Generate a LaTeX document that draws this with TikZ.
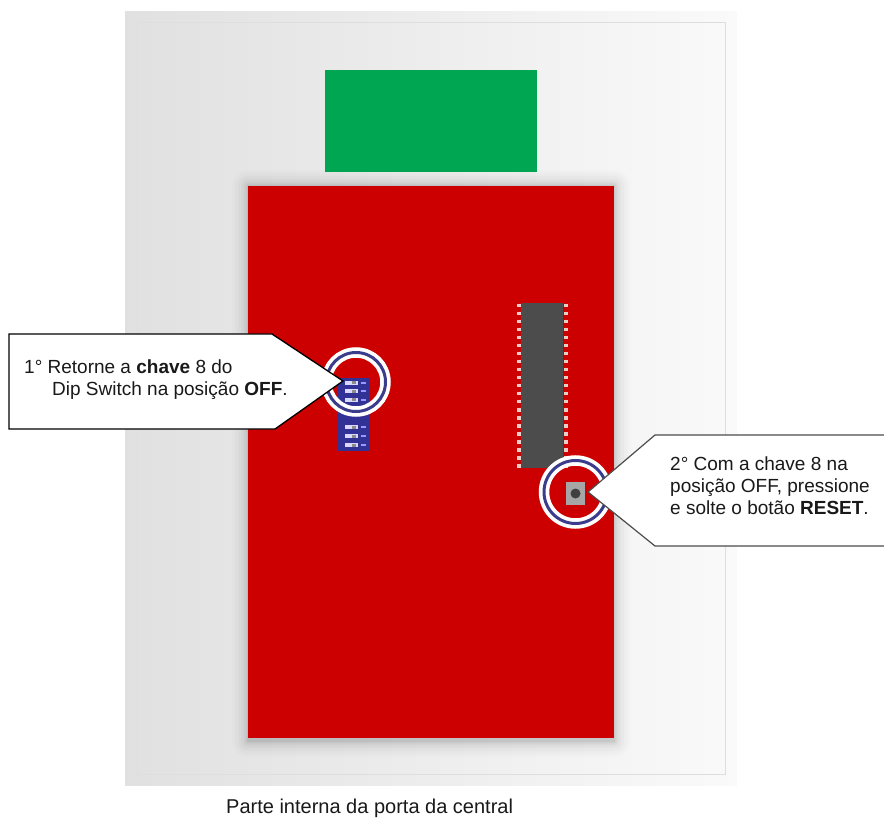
\documentclass[tikz,border=0pt]{standalone}
\usepackage{fontspec}
\setmainfont{Liberation Sans}
\begin{document}
\begin{tikzpicture}[x=1pt,y=-1pt,
  lbl/.style={text=black!90,align=left,anchor=north west,inner sep=0pt},
  ringwhite/.style={draw=white,line width=10.5pt},
  ringblue/.style={draw={rgb,255:red,60;green,60;blue,140},line width=3pt},
  pin/.style={fill={rgb,255:red,235;green,205;blue,200}}
]
\useasboundingbox (0,0) rectangle (884,818);
\fill[white] (0,0) rectangle (884,818);
% panel
\shade[left color=black!12,right color=black!2] (125,12) rectangle (737,785);
\draw[black!13,line width=1pt] (137,23) rectangle (725,774);
% green block
\fill[fill={rgb,255:red,0;green,166;blue,81}] (325,70) rectangle (537,172);
% board shadow
\foreach \d/\o in {16/.012,13/.016,10/.02,7/.025,4.5/.03,2.5/.035,1/.05}
  \fill[black,opacity=\o,rounded corners=\d] (248-\d,186-\d) rectangle (614+\d,738+\d+3);
% board
\fill[fill={rgb,255:red,204;green,0;blue,0}] (248,186) rectangle (614,738);
% chip
\fill[black!70] (521,303) rectangle (563,468);
\foreach \i in {0,...,20} {
  \fill[pin] (516.5,304+\i*8) rectangle (520.5,307.5+\i*8);
  \fill[pin] (563.5,304+\i*8) rectangle (567.5,307.5+\i*8);
}
% dip switch
\fill[fill={rgb,255:red,50;green,50;blue,150}] (337,378) rectangle (370,451);
\foreach \yy in {383,391.5,400,409,427,436,445} {
  \fill[white!85!blue] (345,\yy-2) rectangle (358,\yy+2);
  \fill[black!45] (352,\yy-1.5) rectangle (356,\yy+1.5);
  \fill[white!60!blue] (361,\yy-1) rectangle (366,\yy+1);
}
% ring 1
\draw[ringwhite] (356,382) circle (29.5);
\draw[ringblue] (356,382) circle (29.5);
% button and ring 2
\fill[black!35] (566,482) rectangle (585,505);
\fill[black!75] (575.5,493.5) circle (5);
\draw[ringwhite] (575.5,492) circle (31.5);
\draw[ringblue] (575.5,492) circle (31.5);
% callout 1
\draw[draw=black,fill=white,line width=1.3pt] (9,334) -- (272,334) -- (343,381) -- (275,429) -- (9,429) -- cycle;
\node[lbl,font=\fontsize{19}{21.5}\selectfont] (t1) at (24,360) {1° Retorne a \textbf{chave} 8 do\\\hspace*{28pt}Dip Switch na posição \textbf{OFF}.};
% callout 2
\draw[draw=black!70,fill=white,line width=1.2pt] (890,435) -- (655,435) -- (588,492) -- (655,546) -- (890,546);
\node[lbl,font=\fontsize{19}{22}\selectfont] (t2) at (670,457) {2° Com a chave 8 na\\posição OFF, pressione\\e solte o botão \textbf{RESET}.};
% caption
\node[lbl,font=\fontsize{20}{24}\selectfont] (cap) at (226,799) {Parte interna da porta da central};
\end{tikzpicture}
\end{document}
